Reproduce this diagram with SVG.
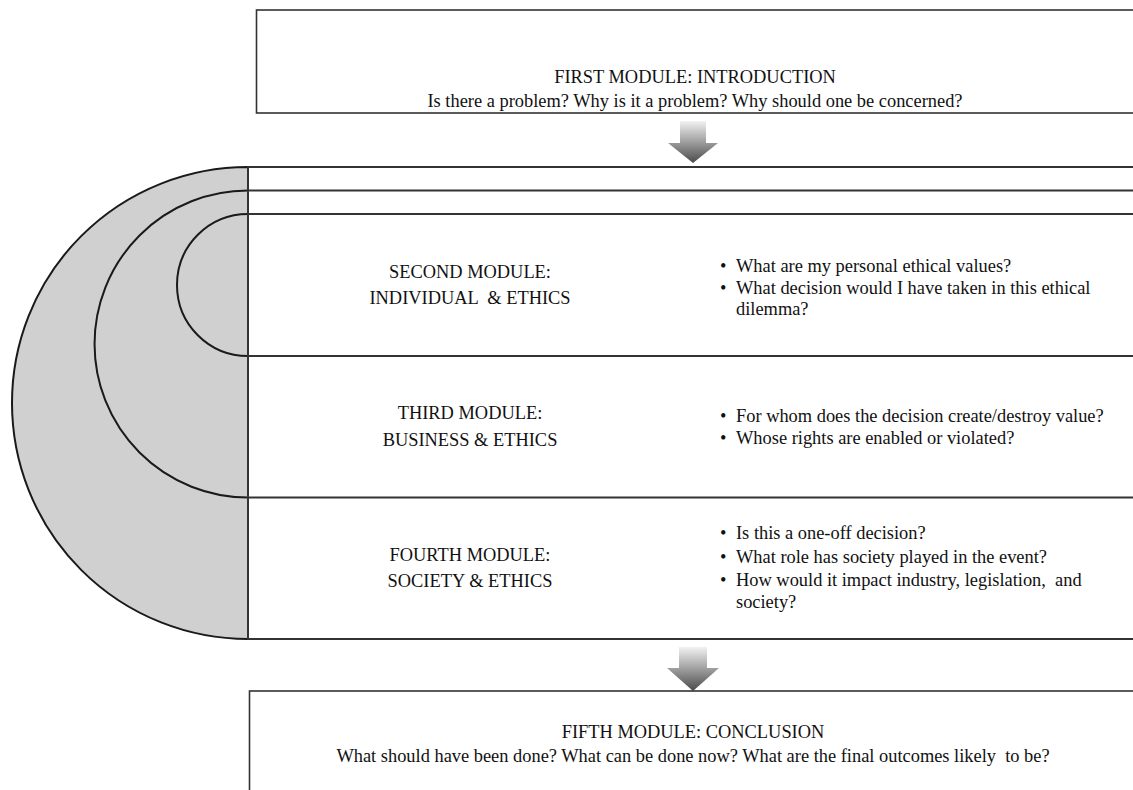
<svg xmlns="http://www.w3.org/2000/svg" width="1133" height="790" viewBox="0 0 1133 790">
<defs>
<linearGradient id="ag" x1="0" y1="0" x2="0" y2="1">
<stop offset="0" stop-color="#f2f2f2"/>
<stop offset="1" stop-color="#4a4a4a"/>
</linearGradient>
<style>
text{font-size:18.4px;fill:#111;white-space:pre}
.c{text-anchor:middle}
.box{fill:#fff;stroke:#333;stroke-width:1.6}
.ln{stroke:#333;stroke-width:2;fill:none}
.arc{stroke:#1a1a1a;stroke-width:2;fill:none}
.arrow{fill:url(#ag)}
</style>
</defs>
<rect width="1133" height="790" fill="#fff"/>
<g font-family="Liberation Serif, DejaVu Serif, serif">
<g id="first-module">
<rect class="box" x="256.5" y="10" width="890" height="103"/>
<text class="c" x="695" y="83">FIRST MODULE: INTRODUCTION</text>
<text class="c" x="695" y="107">Is there a problem? Why is it a problem? Why should one be concerned?</text>
</g>
<g id="shield">
<path d="M248,167 A236,236 0 0 0 248,639 Z" fill="#d0d0d0" stroke="#1a1a1a" stroke-width="2"/>
<path class="arc" d="M248,190.5 A153.5,153.5 0 0 0 248,497.5"/>
<path class="arc" d="M248,214 A71,71 0 0 0 248,356"/>
</g>
<g id="connectors">
<path class="arrow" d="M680,121 H706 V143 H718 L693,163 L668,143 H680 Z"/>
<path class="arrow" d="M679,647 H707 V668 H719 L693,691 L667,668 H679 Z"/>
<line class="ln" x1="248" y1="167" x2="1133" y2="167"/>
<line class="ln" x1="248" y1="190.5" x2="1133" y2="190.5"/>
<line class="ln" x1="248" y1="214" x2="1133" y2="214"/>
<line class="ln" x1="248" y1="356" x2="1133" y2="356"/>
<line class="ln" x1="248" y1="497.5" x2="1133" y2="497.5"/>
<line class="ln" x1="248" y1="639" x2="1133" y2="639"/>
<line class="ln" x1="248" y1="166" x2="248" y2="640"/>
</g>
<g id="second-module">
<text class="c" x="470" y="278">SECOND MODULE:</text>
<text class="c" x="470" y="304">INDIVIDUAL  &amp; ETHICS</text>
<text x="720" y="272">•</text><text x="736" y="272">What are my personal ethical values?</text>
<text x="720" y="294">•</text><text x="736" y="294">What decision would I have taken in this ethical</text>
<text x="736" y="315">dilemma?</text>
</g>
<g id="third-module">
<text class="c" x="470" y="419">THIRD MODULE:</text>
<text class="c" x="470" y="446">BUSINESS &amp; ETHICS</text>
<text x="720" y="422">•</text><text x="736" y="422">For whom does the decision create/destroy value?</text>
<text x="720" y="444">•</text><text x="736" y="444">Whose rights are enabled or violated?</text>
</g>
<g id="fourth-module">
<text class="c" x="470" y="561">FOURTH MODULE:</text>
<text class="c" x="470" y="587">SOCIETY &amp; ETHICS</text>
<text x="720" y="539">•</text><text x="736" y="539">Is this a one-off decision?</text>
<text x="720" y="563">•</text><text x="736" y="563">What role has society played in the event?</text>
<text x="720" y="586">•</text><text x="736" y="586">How would it impact industry, legislation,  and</text>
<text x="736" y="608">society?</text>
</g>
<g id="fifth-module">
<rect class="box" x="249.5" y="691" width="900" height="120"/>
<text class="c" x="693" y="738">FIFTH MODULE: CONCLUSION</text>
<text class="c" x="693" y="762">What should have been done? What can be done now? What are the final outcomes likely  to be?</text>
</g>
</g>
</svg>
